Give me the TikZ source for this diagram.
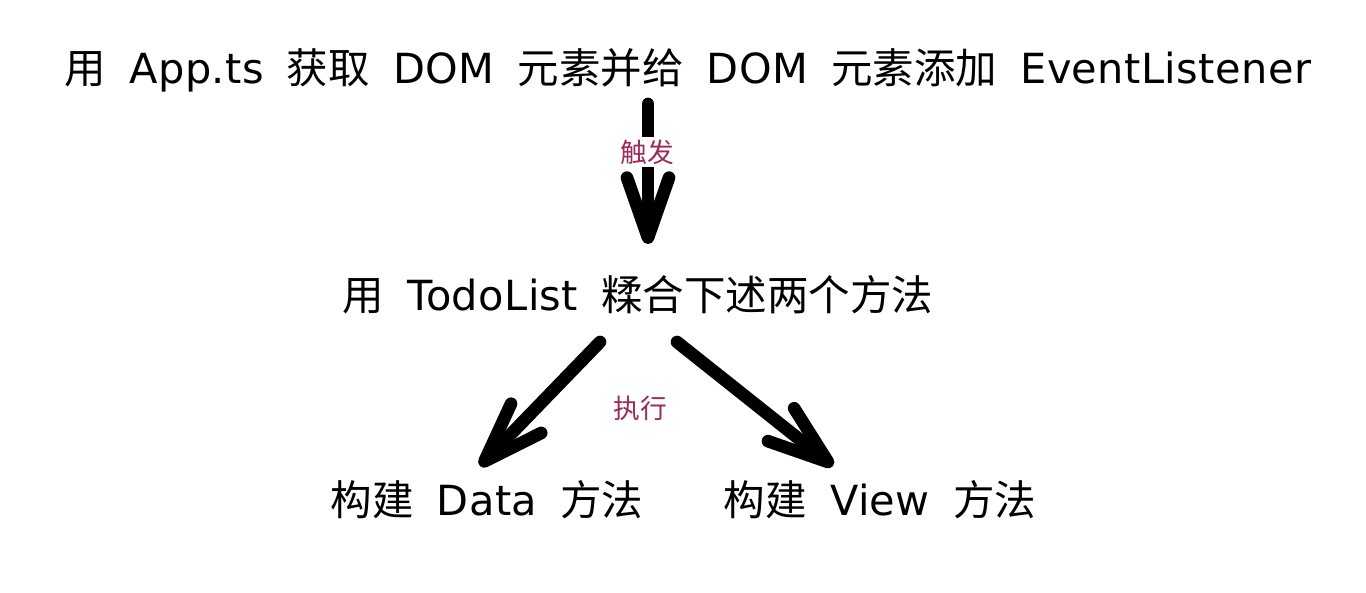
\documentclass[tikz,border=0pt]{standalone}
\usepackage{fontspec}
\newfontfamily\cjk[WordSpace = 2.5]{Noto Sans CJK SC}
\newfontfamily\lat[LetterSpace = 1, WordSpace = 2.5]{DejaVu Sans}
\newcommand\en[1]{{\lat #1}}
\usepackage{tikz}
\usetikzlibrary{arrows.meta, positioning}
\definecolor{lblred}{HTML}{9B2B5A}

\begin{document}
\begin{tikzpicture} [x = 0.025cm, y = -0.025cm, black,
	txt/.style = {font = \cjk\fontsize{29.5}{34}\selectfont, inner sep = 0pt},
	lbl/.style = {font = \cjk\fontsize{19}{22}\selectfont, text = lblred, fill = white, inner sep = 2pt},
	harrow/.style = {line width = 9pt, line cap = round, -{Straight Barb[length = 1.5cm, width = 1.05cm, round]}}]
			% Canvas
			\useasboundingbox (0,0) rectangle (1366,592);
			% Text rows
			\node (top) [txt] at (688,70) {用 \en{App.ts} 获取 \en{DOM} 元素并给 \en{DOM} 元素添加 \en{EventListener}};
			\node (mid) [txt] at (638,295) {用 \en{TodoList} 糅合下述两个方法};
			\node (data) [txt] at (487,500) {构建 \en{Data} 方法};
			\node (view) [txt] at (880,500) {构建 \en{View} 方法};
			% Arrow end points
			\coordinate (topout) at (648,104);
			\coordinate (midin) at (648,244);
			\coordinate (dataout) at (600,342);
			\coordinate (datain) at (480,466);
			\coordinate (viewout) at (677,342);
			\coordinate (viewin) at (833,466);
			% Draw Arrows/Connections
			\draw [harrow] (topout) -- (midin);
			\node (trig) [lbl] at (647,152) {触发};
			\draw [harrow] (dataout) -- (datain);
			\draw [harrow] (viewout) -- (viewin);
			\node (exec) [lbl] at (640,408) {执行};
		\end{tikzpicture}
\end{document}
